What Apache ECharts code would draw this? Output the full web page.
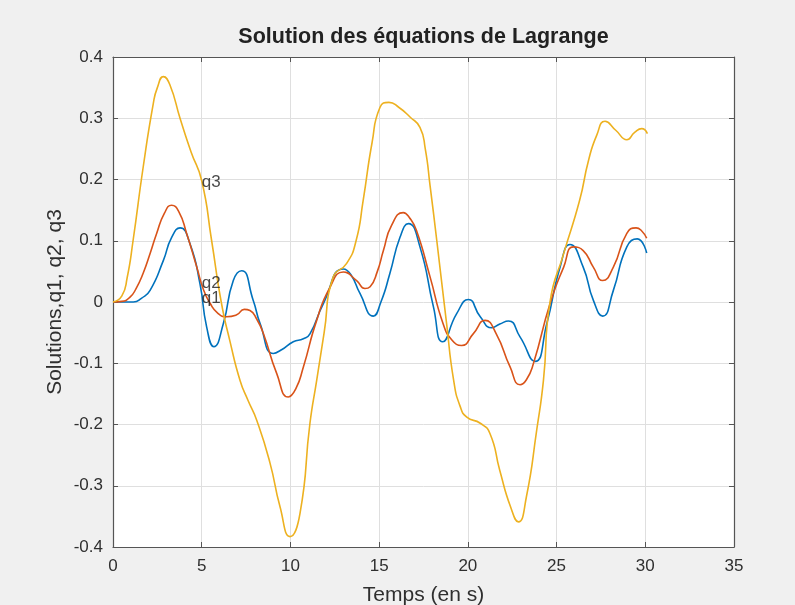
<!DOCTYPE html>
<html>
<head>
<meta charset="utf-8">
<script src="https://cdn.jsdelivr.net/npm/echarts@6/dist/echarts.min.js"></script>
<style>
  html, body { margin: 0; padding: 0; background: #f0f0f0; }
  #chart { width: 795px; height: 605px; }
</style>
</head>
<body>
<div id="chart"></div>
<script>
// Solutions q1, q2, q3 of the Lagrange equations against time (s)
const q1T = [0, 1.15, 1.6, 2.09, 2.84, 3.3, 3.78, 4.34, 4.9, 5.28, 5.69, 6.22, 6.78, 7.25, 7.9, 8.29, 9.04, 9.5, 10.16, 10.73, 11.1, 11.85, 12.98, 13.4, 13.92, 14.67, 15.1, 15.6, 16.18, 16.65, 17.3, 18.06, 18.58, 19.37, 20.03, 20.7, 21.35, 21.8, 22.29, 22.94, 23.79, 24.45, 25.2, 25.76, 26.5, 27.07, 27.6, 28.2, 28.96, 29.55, 30.08];
const q1V = [0, 0.0, 0.006, 0.019, 0.068, 0.105, 0.121, 0.095, 0.03, -0.041, -0.073, -0.035, 0.035, 0.051, 0.003, -0.035, -0.084, -0.078, -0.065, -0.06, -0.052, -0.003, 0.054, 0.045, 0.014, -0.023, 0.0, 0.046, 0.106, 0.128, 0.09, -0.008, -0.065, -0.019, 0.004, -0.024, -0.042, -0.036, -0.031, -0.057, -0.097, -0.035, 0.057, 0.094, 0.057, 0.003, -0.023, 0.019, 0.09, 0.103, 0.08];

const q2T = [0, 0.5, 0.96, 1.3, 1.7, 2.1, 2.46, 2.9, 3.3, 3.7, 4.15, 4.72, 5.1, 5.47, 5.9, 6.4, 6.97, 7.4, 7.72, 8.1, 8.47, 9.23, 9.88, 10.3, 10.73, 11.48, 12.23, 12.98, 13.73, 14.2, 14.49, 14.9, 15.24, 15.7, 16.36, 16.7, 17.1, 17.87, 18.6, 19.1, 19.65, 20.3, 20.97, 21.6, 22.38, 22.94, 23.3, 23.7, 24.63, 25.4, 25.95, 26.5, 27.07, 27.6, 28.2, 28.96, 29.48, 29.8, 30.08];
const q2V = [0, 0.001, 0.008, 0.022, 0.047, 0.08, 0.112, 0.145, 0.158, 0.148, 0.112, 0.057, 0.02, -0.002, -0.018, -0.024, -0.021, -0.012, -0.014, -0.028, -0.051, -0.117, -0.155, -0.142, -0.106, -0.03, 0.024, 0.049, 0.035, 0.022, 0.025, 0.05, 0.084, 0.125, 0.146, 0.138, 0.117, 0.041, -0.035, -0.062, -0.071, -0.052, -0.03, -0.052, -0.106, -0.135, -0.127, -0.1, -0.003, 0.057, 0.09, 0.084, 0.057, 0.035, 0.057, 0.112, 0.121, 0.116, 0.104];

const q3T = [0, 0.5, 0.8, 1.13, 1.7, 2.27, 2.5, 2.84, 3.2, 3.8, 4.4, 5.0, 5.56, 6.1, 6.6, 7.16, 7.6, 8.1, 8.85, 9.41, 9.98, 10.54, 11.1, 11.48, 11.9, 12.4, 13.17, 13.7, 14.1, 14.6, 15.05, 15.55, 16.1, 16.74, 17.3, 17.6, 17.87, 18.25, 18.8, 19.2, 19.56, 19.94, 20.7, 21.25, 21.8, 22.4, 22.85, 23.3, 23.88, 24.26, 24.63, 25.4, 26.3, 26.8, 27.26, 27.73, 28.35, 28.96, 29.4, 29.8, 30.12];
const q3V = [0, 0.01, 0.04, 0.10, 0.22, 0.324, 0.35, 0.368, 0.355, 0.298, 0.245, 0.198, 0.10, 0.0, -0.065, -0.128, -0.16, -0.193, -0.263, -0.334, -0.383, -0.345, -0.198, -0.128, -0.05, 0.04, 0.063, 0.10, 0.166, 0.26, 0.318, 0.326, 0.318, 0.302, 0.285, 0.25, 0.19, 0.10, -0.035, -0.128, -0.17, -0.188, -0.198, -0.215, -0.275, -0.334, -0.359, -0.318, -0.209, -0.128, 0.0, 0.079, 0.166, 0.231, 0.272, 0.295, 0.28, 0.265, 0.277, 0.283, 0.275];

// Text annotations placed in data coordinates
const noteNames = ['q3', 'q2', 'q1'];
const noteT = [5, 5, 5];
const noteV = [0.196, 0.030, 0.006];

// Tick labels
const xTickText = ['0', '5', '10', '15', '20', '25', '30', '35'];
const yTickText = ['-0.4', '-0.3', '-0.2', '-0.1', '0', '0.1', '0.2', '0.3', '0.4'];

const X_MIN = 0, X_MAX = 35, X_STEP = 5;
const Y_MIN = -0.4, Y_MAX = 0.4, Y_STEP = 0.1;

const FONT = '"Liberation Sans", Arial, Helvetica, sans-serif';
const AXIS_COLOR = '#555555';
const TEXT_COLOR = '#2f2f2f';

function pairs(ts, vs) { return ts.map((t, i) => [t, vs[i]]); }

const chart = echarts.init(document.getElementById('chart'), null, { renderer: 'canvas' });

const baseX = {
  type: 'value', min: X_MIN, max: X_MAX, interval: X_STEP,
  axisLine: { show: true, onZero: false, lineStyle: { color: AXIS_COLOR, width: 1.2 } },
  axisTick: { show: true, inside: true, length: 5, lineStyle: { color: AXIS_COLOR, width: 1 } },
  splitLine: { show: false },
  axisLabel: { show: false }
};
const baseY = {
  type: 'value', min: Y_MIN, max: Y_MAX, interval: Y_STEP,
  axisLine: { show: true, onZero: false, lineStyle: { color: AXIS_COLOR, width: 1.2 } },
  axisTick: { show: true, inside: true, length: 5, lineStyle: { color: AXIS_COLOR, width: 1 } },
  splitLine: { show: false },
  axisLabel: { show: false }
};

const lineSeries = (name, data, color) => ({
  name, type: 'line', data, smooth: 0.55, showSymbol: false, symbol: 'none',
  lineStyle: { color, width: 1.6 }, z: 3
});

chart.setOption({
  animation: false,
  backgroundColor: '#f0f0f0',
  title: {
    text: 'Solution des équations de Lagrange',
    left: 423.5, top: 26, textAlign: 'center', padding: 0,
    textStyle: { fontFamily: FONT, fontSize: 21.5, fontWeight: 'bold', color: '#222' }
  },
  grid: {
    left: 113, top: 57, width: 621, height: 490,
    outerBoundsMode: 'none', containLabel: false,
    show: true, backgroundColor: '#ffffff', borderWidth: 0
  },
  xAxis: [
    Object.assign({}, baseX, {
      position: 'bottom',
      name: 'Temps (en s)', nameLocation: 'middle', nameGap: 38, nameMoveOverlap: false,
      nameTextStyle: { fontFamily: FONT, fontSize: 21, color: TEXT_COLOR },
      splitLine: { show: true, lineStyle: { color: '#dfdfdf', width: 1 } },
      axisLabel: {
        show: true, margin: 11, fontFamily: FONT, fontSize: 17, color: TEXT_COLOR,
        formatter: v => xTickText[Math.round((v - X_MIN) / X_STEP)]
      }
    }),
    Object.assign({}, baseX, { position: 'top' })
  ],
  yAxis: [
    Object.assign({}, baseY, {
      position: 'left',
      name: 'Solutions,q1, q2, q3', nameLocation: 'middle', nameGap: 47, nameMoveOverlap: false,
      nameTextStyle: { fontFamily: FONT, fontSize: 21, color: TEXT_COLOR },
      splitLine: { show: true, lineStyle: { color: '#dfdfdf', width: 1 } },
      axisLabel: {
        show: true, margin: 10, fontFamily: FONT, fontSize: 17, color: TEXT_COLOR,
        formatter: v => yTickText[Math.round((v - Y_MIN) / Y_STEP)]
      }
    }),
    Object.assign({}, baseY, { position: 'right' })
  ],
  series: [
    lineSeries('q1', pairs(q1T, q1V), '#0072BD'),
    lineSeries('q2', pairs(q2T, q2V), '#D95319'),
    lineSeries('q3', pairs(q3T, q3V), '#EDB120'),
    {
      name: 'notes', type: 'scatter', symbolSize: 0, z: 4,
      data: noteNames.map((n, i) => ({ name: n, value: [noteT[i], noteV[i]] })),
      label: {
        show: true, position: 'right', distance: 0, formatter: '{b}',
        fontFamily: FONT, fontSize: 17, color: '#1a1a1a'
      },
      silent: true
    }
  ]
});
</script>
</body>
</html>
